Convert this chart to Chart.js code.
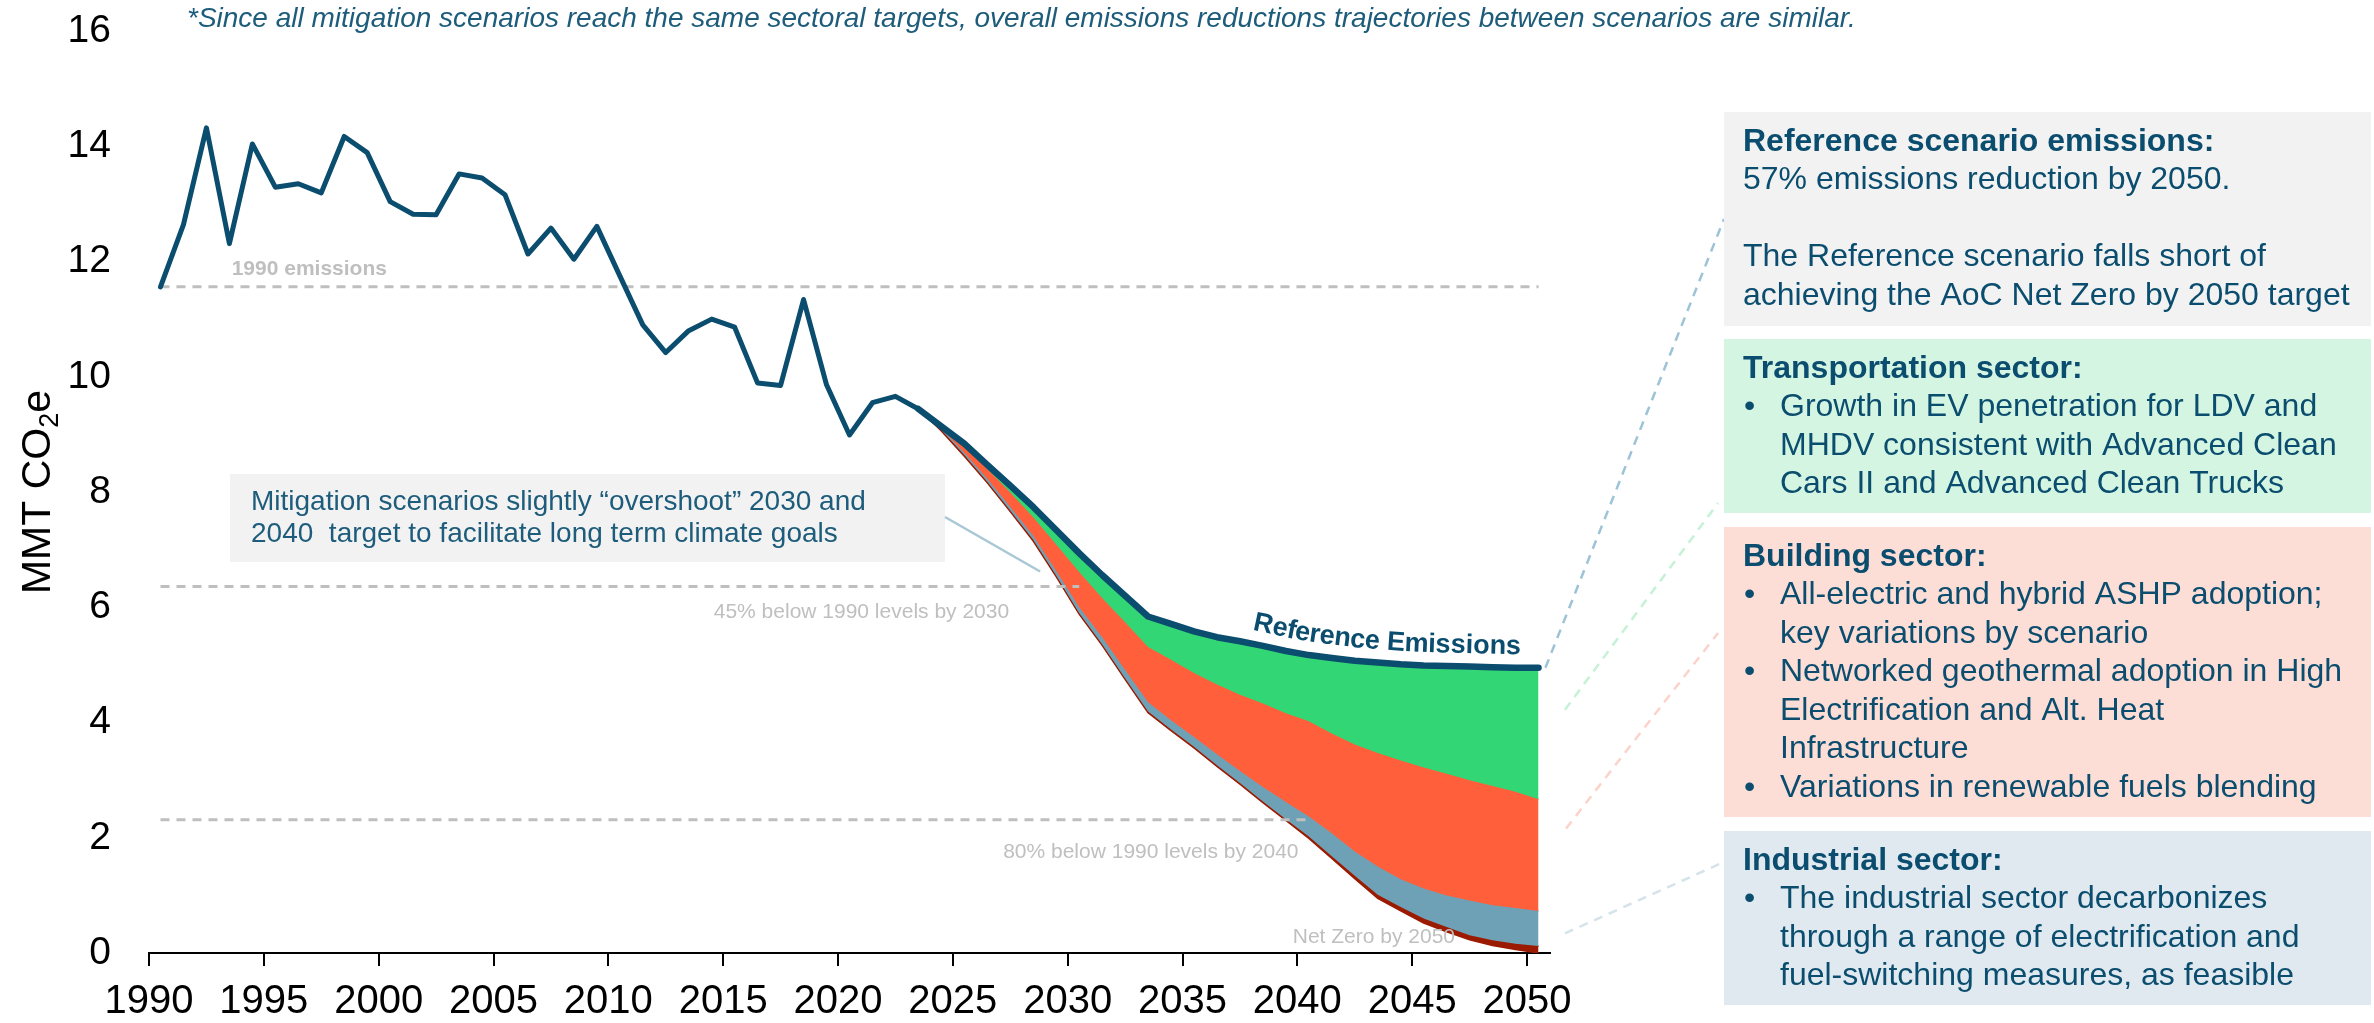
<!DOCTYPE html>
<html>
<head>
<meta charset="utf-8">
<title>Emissions trajectories</title>
<script src="https://cdn.jsdelivr.net/npm/chart.js@4.4.0/dist/chart.umd.min.js"></script>
<style>
  html, body { margin: 0; padding: 0; background: #ffffff; }
  canvas { display: block; }
</style>
</head>
<body>
<canvas id="emissionsChart" width="2374" height="1023"></canvas>
<script>
const FONT = "'Liberation Sans', Arial, Helvetica, sans-serif";
const TEAL = '#0B4D6E';
const NOTE_TEAL = '#1D5C7B';
const GREY = '#BFBFBF';

const colors = {
    line: '#0B4D6E',
    transport: '#33D675',
    building: '#FF5F3A',
    industry: '#6FA1B6',
    other: '#9B1B00'
};

function yearRange(from, to) {
    const out = [];
    for (let y = from; y <= to; y++) out.push(y);
    return out;
}

// Inventory years and emissions (MMT CO2e)
const historyYears = yearRange(1990, 2022);
const historyEmissions = [
    11.56, 12.64, 14.32, 12.31, 14.04, 13.29, 13.35, 13.19, 14.17, 13.89,
    13.04, 12.82, 12.81, 13.52, 13.45, 13.16, 12.13, 12.58, 12.04, 12.61,
    11.75, 10.90, 10.42, 10.80, 11.00, 10.86, 9.89, 9.85, 11.34, 9.86,
    8.99, 9.55, 9.66
];

// Projection years
const projectionYears = yearRange(2023, 2050);
const referenceEmissions = [
    9.44, 9.14, 8.84, 8.47, 8.11, 7.74, 7.34, 6.94, 6.56, 6.20,
    5.84, 5.71, 5.58, 5.48, 5.41, 5.33, 5.24, 5.17, 5.12, 5.07,
    5.04, 5.01, 4.99, 4.98, 4.97, 4.96, 4.95, 4.95
];
// what is left after each sector's reductions are taken off the reference
const afterTransport = [
    9.44, 9.13, 8.81, 8.40, 7.99, 7.56, 7.09, 6.61, 6.16, 5.74,
    5.31, 5.09, 4.86, 4.66, 4.48, 4.33, 4.16, 4.02, 3.81, 3.62,
    3.47, 3.34, 3.22, 3.11, 3.00, 2.90, 2.80, 2.67
];
const afterBuildings = [
    9.44, 9.10, 8.68, 8.23, 7.74, 7.24, 6.63, 6.00, 5.48, 4.91,
    4.35, 4.04, 3.75, 3.45, 3.16, 2.88, 2.62, 2.37, 2.08, 1.76,
    1.50, 1.28, 1.12, 1.00, 0.91, 0.83, 0.78, 0.73
];
const afterIndustry = [
    9.44, 9.08, 8.64, 8.18, 7.68, 7.17, 6.55, 5.90, 5.36, 4.77,
    4.19, 3.88, 3.58, 3.26, 2.95, 2.63, 2.32, 2.02, 1.68, 1.34,
    1.01, 0.80, 0.60, 0.45, 0.31, 0.22, 0.16, 0.12
];
const mitigationEmissions = [
    9.44, 9.06, 8.62, 8.16, 7.66, 7.15, 6.53, 5.88, 5.34, 4.75,
    4.17, 3.86, 3.56, 3.24, 2.93, 2.61, 2.30, 1.99, 1.64, 1.29,
    0.95, 0.73, 0.52, 0.37, 0.23, 0.13, 0.06, 0.00
];

const xTicks = [1990, 1995, 2000, 2005, 2010, 2015, 2020, 2025, 2030, 2035, 2040, 2045, 2050];
const yTicks = [0, 2, 4, 6, 8, 10, 12, 14, 16];

// targets expressed as a share of 1990 emissions
const targetNames = ['1990 emissions', '45% below 1990 levels by 2030', '80% below 1990 levels by 2040'];
const targetShares = [1, 0.55, 0.2];
const targetYears = [2050, 2030, 2040];

// annual values are plotted at mid-year
const MID = 0.5;
const toPoints = (years, values) => years.map((yr, i) => ({ x: yr + MID, y: values[i] }));

const emissionsLine = toPoints(historyYears, historyEmissions)
    .concat(toPoints(projectionYears, referenceEmissions));

const baseYear = historyEmissions[0];
const targetDatasets = targetShares.map((share, i) => ({
    label: targetNames[i],
    data: [
        { x: historyYears[0] + MID, y: baseYear * share },
        { x: targetYears[i] + MID, y: baseYear * share }
    ],
    borderColor: GREY,
    borderWidth: 3,
    borderDash: [9, 7],
    fill: false
}));

function bandDataset(label, values, color, border) {
    return {
        label: label,
        data: toPoints(projectionYears, values),
        backgroundColor: color,
        borderColor: color,
        borderWidth: border,
        fill: '+1'
    };
}

// ---- annotation helpers ----
function curveAt(pts, x) {
    let i = 0;
    while (i < pts.length - 2 && x > pts[i + 1].x) i++;
    const a = pts[i], b = pts[i + 1];
    const t = (x - a.x) / (b.x - a.x);
    return a.y + t * (b.y - a.y);
}

function textAlongCurve(ctx, text, pts, startX, offset) {
    let x = startX;
    for (const ch of text) {
        const w = ctx.measureText(ch).width;
        const cx = x + w / 2;
        const y = curveAt(pts, cx);
        const h = 18;
        const angle = Math.atan2(curveAt(pts, cx + h) - curveAt(pts, cx - h), 2 * h);
        ctx.save();
        ctx.translate(cx + Math.sin(angle) * offset, y - Math.cos(angle) * offset);
        ctx.rotate(angle);
        ctx.fillText(ch, 0, 0);
        ctx.restore();
        x += w * Math.cos(angle);
    }
}

const panels = [
    { top: 112, bottom: 326, fill: '#F2F2F2', rows: [
        ['h', 'Reference scenario emissions:'],
        ['p', '57% emissions reduction by 2050.'],
        ['p', ''],
        ['p', 'The Reference scenario falls short of'],
        ['p', 'achieving the AoC Net Zero by 2050 target']
    ]},
    { top: 339, bottom: 513, fill: '#D5F5E3', rows: [
        ['h', 'Transportation sector:'],
        ['b', 'Growth in EV penetration for LDV and'],
        ['c', 'MHDV consistent with Advanced Clean'],
        ['c', 'Cars II and Advanced Clean Trucks']
    ]},
    { top: 527, bottom: 817, fill: '#FDDED7', rows: [
        ['h', 'Building sector:'],
        ['b', 'All-electric and hybrid ASHP adoption;'],
        ['c', 'key variations by scenario'],
        ['b', 'Networked geothermal adoption in High'],
        ['c', 'Electrification and Alt. Heat'],
        ['c', 'Infrastructure'],
        ['b', 'Variations in renewable fuels blending']
    ]},
    { top: 831, bottom: 1005, fill: '#E0E9EF', rows: [
        ['h', 'Industrial sector:'],
        ['b', 'The industrial sector decarbonizes'],
        ['c', 'through a range of electrification and'],
        ['c', 'fuel-switching measures, as feasible']
    ]}
];

// dashed leaders from the 2050 bands to the side panels: [year, value, panel x, panel y, colour]
const leaders = [
    [2050.8, 4.95, 1724, 219, '#9DC3D6'],
    [2051.65, 4.22, 1718, 503, '#C5F2D6'],
    [2051.7, 2.16, 1718, 633, '#FCD3C9'],
    [2051.65, 0.34, 1724, 862, '#D5E3EA']
];

const annotations = {
    id: 'annotations',
    afterDatasetsDraw(chart) {
        const ctx = chart.ctx;
        const xs = chart.scales.x, ys = chart.scales.y;
        ctx.save();

        // target line captions
        ctx.fillStyle = GREY;
        ctx.textBaseline = 'middle';
        ctx.font = `bold 21px ${FONT}`;
        ctx.textAlign = 'left';
        ctx.fillText(targetNames[0], xs.getPixelForValue(1993.6), ys.getPixelForValue(baseYear * targetShares[0]) - 18);
        ctx.font = `21px ${FONT}`;
        ctx.textAlign = 'right';
        ctx.fillText(targetNames[1], xs.getPixelForValue(2027.45), ys.getPixelForValue(baseYear * targetShares[1]) + 26);
        ctx.fillText(targetNames[2], xs.getPixelForValue(2040.05), ys.getPixelForValue(baseYear * targetShares[2]) + 32);
        ctx.textAlign = 'left';
        ctx.fillText('Net Zero by 2050', xs.getPixelForValue(2039.8), ys.getPixelForValue(0) - 16);

        // curve label riding on the reference projection
        const pts = chart.getDatasetMeta(0).data.slice(historyYears.length - 1).map(p => ({ x: p.x, y: p.y }));
        ctx.fillStyle = TEAL;
        ctx.font = `bold 27px ${FONT}`;
        ctx.textAlign = 'center';
        textAlongCurve(ctx, 'Reference Emissions', pts, xs.getPixelForValue(2037.9), 21);
        ctx.restore();
    },
    afterDraw(chart) {
        const ctx = chart.ctx;
        const xs = chart.scales.x, ys = chart.scales.y;
        const area = chart.chartArea;
        ctx.save();

        // footnote
        ctx.fillStyle = NOTE_TEAL;
        ctx.font = `italic 28px ${FONT}`;
        ctx.textBaseline = 'alphabetic';
        ctx.textAlign = 'left';
        ctx.fillText('*Since all mitigation scenarios reach the same sectoral targets, overall emissions reductions trajectories between scenarios are similar.', 187, 27);
        ctx.textBaseline = 'middle';

        // y axis title with subscript
        ctx.save();
        ctx.translate(50, (area.top + area.bottom) / 2);
        ctx.rotate(-Math.PI / 2);
        ctx.fillStyle = '#000';
        ctx.textBaseline = 'alphabetic';
        ctx.font = `41px ${FONT}`;
        const wMain = ctx.measureText('MMT CO').width;
        const wE = ctx.measureText('e').width;
        ctx.font = `27px ${FONT}`;
        const wSub = ctx.measureText('2').width;
        let tx = -(wMain + wSub + wE) / 2;
        ctx.font = `41px ${FONT}`;
        ctx.fillText('MMT CO', tx, 0);
        tx += wMain;
        ctx.font = `27px ${FONT}`;
        ctx.fillText('2', tx, 8);
        tx += wSub;
        ctx.font = `41px ${FONT}`;
        ctx.fillText('e', tx, 0);
        ctx.restore();

        // overshoot note box and its pointer
        ctx.fillStyle = '#F2F2F2';
        ctx.fillRect(230, 474, 715, 88);
        ctx.strokeStyle = '#A8C8D5';
        ctx.lineWidth = 2.5;
        ctx.beginPath();
        ctx.moveTo(945, 517);
        ctx.lineTo(xs.getPixelForValue(2028.8), ys.getPixelForValue(6.62));
        ctx.stroke();
        ctx.fillStyle = NOTE_TEAL;
        ctx.font = `28px ${FONT}`;
        ctx.fillText('Mitigation scenarios slightly \u201covershoot\u201d 2030 and', 251, 502);
        ctx.fillText('2040  target to facilitate long term climate goals', 251, 534);

        // leaders to side panels
        ctx.lineWidth = 2.5;
        ctx.setLineDash([9, 7]);
        leaders.forEach(([yr, val, px, py, col]) => {
            ctx.strokeStyle = col;
            ctx.beginPath();
            ctx.moveTo(xs.getPixelForValue(yr), ys.getPixelForValue(val));
            ctx.lineTo(px, py);
            ctx.stroke();
        });
        ctx.setLineDash([]);

        // side panels
        const left = 1724, right = 2371, pitch = 38.5;
        panels.forEach(panel => {
            ctx.fillStyle = panel.fill;
            ctx.fillRect(left, panel.top, right - left, panel.bottom - panel.top);
            ctx.fillStyle = TEAL;
            panel.rows.forEach(([kind, text], i) => {
                const y = panel.top + 30 + i * pitch;
                if (kind === 'h') {
                    ctx.font = `bold 32px ${FONT}`;
                    ctx.fillText(text, 1743, y);
                } else if (kind === 'p') {
                    ctx.font = `32px ${FONT}`;
                    ctx.fillText(text, 1743, y);
                } else {
                    ctx.font = `32px ${FONT}`;
                    if (kind === 'b') ctx.fillText('\u2022', 1744, y);
                    ctx.fillText(text, 1780, y);
                }
            });
        });
        ctx.restore();
    }
};

const ctx = document.getElementById('emissionsChart').getContext('2d');
new Chart(ctx, {
    type: 'line',
    data: {
        datasets: [
            {
                label: 'Reference Emissions',
                data: emissionsLine,
                borderColor: colors.line,
                borderWidth: 5,
                borderCapStyle: 'round',
                borderJoinStyle: 'round',
                fill: false,
                segment: {
                    borderWidth: c => (c.p0.parsed.x >= projectionYears[0] + MID ? 6.5 : 5)
                }
            },
            ...targetDatasets,
            bandDataset('Transportation', referenceEmissions, colors.transport, 0),
            bandDataset('Buildings', afterTransport, colors.building, 1.5),
            bandDataset('Industrial', afterBuildings, colors.industry, 1.5),
            bandDataset('Other', afterIndustry, colors.other, 1.5),
            {
                label: 'Mitigation',
                data: toPoints(projectionYears, mitigationEmissions),
                borderColor: colors.other,
                borderWidth: 1.5,
                fill: false
            }
        ]
    },
    options: {
        responsive: false,
        animation: false,
        events: [],
        layout: { padding: { left: 0, top: 31, right: 824, bottom: 0 } },
        elements: { point: { radius: 0 }, line: { tension: 0 } },
        plugins: {
            legend: { display: false },
            tooltip: { enabled: false }
        },
        scales: {
            x: {
                type: 'linear',
                min: 1990,
                max: 2051,
                afterFit: s => { s.height = 70; },
                afterBuildTicks: s => { s.ticks = xTicks.map(v => ({ value: v })); },
                grid: { display: true, drawOnChartArea: false, drawTicks: true, tickLength: 13, color: '#000', lineWidth: 2 },
                border: { display: true, color: '#000', width: 2 },
                ticks: {
                    padding: 12,
                    color: '#000',
                    autoSkip: false,
                    maxRotation: 0,
                    font: { family: FONT, size: 40 },
                    callback: v => String(v)
                }
            },
            y: {
                min: 0,
                max: 16,
                afterFit: s => {
                    s.width = 149;
                    // the label gap is horizontal only; keep it out of the vertical layout
                    s.paddingTop = 0;
                    s.paddingBottom = 0;
                },
                afterBuildTicks: s => { s.ticks = yTicks.map(v => ({ value: v })); },
                grid: { display: false, drawTicks: false },
                border: { display: false },
                ticks: {
                    padding: 38,
                    color: '#000',
                    font: { family: FONT, size: 39 },
                    callback: v => String(v)
                }
            }
        }
    },
    plugins: [annotations]
});
</script>
</body>
</html>
